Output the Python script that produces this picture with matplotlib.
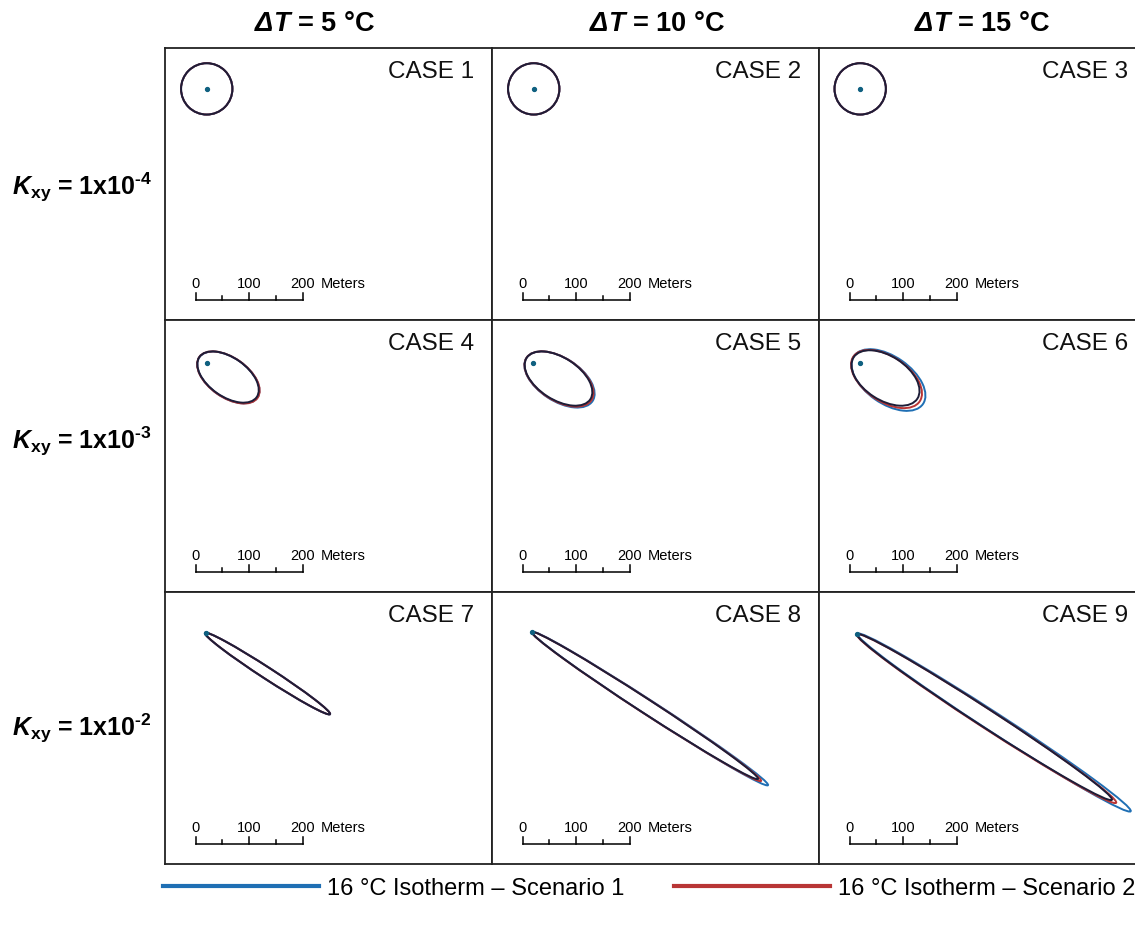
import matplotlib
matplotlib.use("Agg")
import matplotlib.pyplot as plt
from matplotlib.patches import Ellipse
from matplotlib.lines import Line2D

plt.rcParams['font.family'] = ['Liberation Sans', 'DejaVu Sans']
plt.rcParams['mathtext.fontset'] = 'custom'
plt.rcParams['mathtext.rm'] = 'Liberation Sans'
plt.rcParams['mathtext.it'] = 'Liberation Sans:italic'
plt.rcParams['mathtext.bf'] = 'Liberation Sans:bold'
plt.rcParams['mathtext.bfit'] = 'Liberation Sans:italic:bold'

# panel labels
delta_t = ["5", "10", "15"]
kxy_exp = ["\u20104", "\u20103", "\u20102"]
cases = [1, 2, 3, 4, 5, 6, 7, 8, 9]

# injection well position (m, panel coords)
well_x = [78, 78, 77, 78.5, 76.6, 76.6, 76.6, 74.8, 71]
well_y = [432, 432, 432, 428, 428, 428, 431.7, 433.6, 430]

# 16 C isotherm fitted as ellipse: centre x/y (m), semi-axes (m), dip angle (deg)
s1_cx = [78, 78, 77, 118.5, 126.2, 129.9, 191.6, 295.3, 327.1]
s1_cy = [432, 432, 432, 401, 397.2, 396.2, 356, 290.6, 264.5]
s1_a = [48, 48, 48, 66, 73.8, 78.5, 139.5, 263, 304.6]
s1_b = [48, 48, 48, 36.8, 40.2, 43.9, 10.8, 13.6, 17.5]
s1_ang = [0, 0, 0, 35, 33, 35, 33, 33, 33]

s2_cx = [78, 78, 77, 118.5, 125.2, 126.2, 191.6, 288.8, 313]
s2_cy = [432, 432, 432, 401, 398.1, 398.1, 356, 294.3, 271.9]
s2_a = [48, 48, 48, 66.5, 72.5, 74.8, 139.2, 255.3, 289]
s2_b = [48, 48, 48, 37, 39.8, 42, 10.6, 13.4, 17.2]
s2_ang = [0, 0, 0, 35, 33, 34, 33, 33, 33]

s3_cx = [78, 78, 77, 117.8, 124.3, 124.3, 191.6, 286, 309.3]
s3_cy = [432, 432, 432, 401.8, 399, 400, 356, 296.2, 274.7]
s3_a = [48, 48, 48, 65.4, 71, 71, 139.2, 252, 284]
s3_b = [48, 48, 48, 36.4, 39.2, 41.1, 10.6, 13.2, 16.8]
s3_ang = [0, 0, 0, 35, 33, 33, 33, 33, 33]

scale_ticks = [0, 50, 100, 150, 200]
scale_labels = ["0", "", "100", "", "200"]

BLUE = "#1f6fb4"
RED = "#b83535"
DARK = "#1d1d38"

W, H = 1135, 929
PX_PER_M = 0.535
col_left = [165, 492, 819]
row_top = [49, 321, 593]
pw, ph = 327, 272

fig = plt.figure(figsize=(W / 100, H / 100), dpi=100)

scenarios = [
    (s1_cx, s1_cy, s1_a, s1_b, s1_ang, BLUE),
    (s2_cx, s2_cy, s2_a, s2_b, s2_ang, RED),
    (s3_cx, s3_cy, s3_a, s3_b, s3_ang, DARK),
]

for i, case in enumerate(cases):
    r, c = divmod(i, 3)
    ax = fig.add_axes([col_left[c] / W, 1 - (row_top[r] + ph) / H, pw / W, ph / H])
    ax.set_xlim(0, pw / PX_PER_M)
    ax.set_ylim(0, ph / PX_PER_M)
    ax.set_xticks([])
    ax.set_yticks([])
    for sp in ax.spines.values():
        sp.set_linewidth(1.3)
        sp.set_color("#222222")

    for cx, cy, a, b, ang, col in scenarios:
        ax.add_patch(Ellipse((cx[i], cy[i]), 2 * a[i], 2 * b[i], angle=-ang[i],
                             fill=False, ec=col, lw=1.4))
    ax.plot(well_x[i], well_y[i], "o", ms=2.8, color="#0f6080", zorder=5)

    ax.text(1 - 18 / pw, 1 - 12 / ph, f"CASE {case}", transform=ax.transAxes,
            ha="right", va="top", fontsize=17.5, color="#111111")

    # scale bar
    x0, y0 = 57.4, 38
    ax.plot([x0, x0 + 200], [y0, y0], color="black", lw=1.1)
    for t, lab in zip(scale_ticks, scale_labels):
        th = 13 if lab else 6.5
        ax.plot([x0 + t, x0 + t], [y0, y0 + th], color="black", lw=1.1)
        if lab:
            ax.text(x0 + t, y0 + 23, lab, ha="center", va="baseline", fontsize=10.5)
    ax.text(x0 + 234, y0 + 23, "Meters", ha="left", va="baseline", fontsize=10.5)

title_x = [314, 657, 982]
for c in range(3):
    fig.text(title_x[c] / W, 1 - 24 / H, r"$\mathbfit{ΔT}$ = " + delta_t[c] + " °C",
             ha="center", va="center", fontsize=19.5, fontweight="bold")

label_y = [187, 441, 728]
for r in range(3):
    fig.text(152 / W, 1 - label_y[r] / H,
             r"$\mathbfit{K}_{\mathbf{xy}}$ = 1x10$^{\mathbf{" + kxy_exp[r] + "}}$",
             ha="right", va="center", fontsize=18, fontweight="bold")

handles = [Line2D([], [], color=BLUE, lw=3),
           Line2D([], [], color=RED, lw=3)]
labels = ["16 °C Isotherm – Scenario 1", "16 °C Isotherm – Scenario 2"]
fig.legend(handles, labels, loc="center left", bbox_to_anchor=(163 / W, 1 - 889 / H),
           ncol=2, frameon=False, fontsize=17, handlelength=6.6, handletextpad=0.35,
           columnspacing=2.1, borderpad=0, borderaxespad=0)

fig.savefig("out.png", dpi=100)
